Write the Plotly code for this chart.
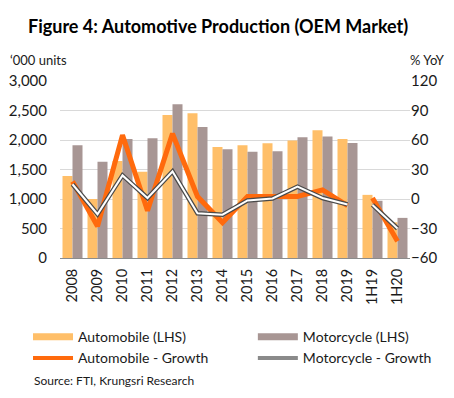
import plotly.graph_objects as go

categories = ["2008", "2009", "2010", "2011", "2012", "2013", "2014",
              "2015", "2016", "2017", "2018", "2019", "1H19", "1H20"]
auto_units = [1390, 1000, 1645, 1460, 2425, 2455, 1880, 1913, 1945, 1990, 2165, 2015, 1070, 605]
moto_units = [1910, 1630, 2015, 2030, 2605, 2220, 1845, 1800, 1810, 2045, 2060, 1950, 970, 680]
auto_growth = [17.8, -27.7, 65.0, -12.0, 66.5, 2.5, -24.0, 2.5, 2.5, 2.5, 9.2, -6.8, 1.0, -43.0]
moto_growth = [15.0, -15.5, 24.0, 1.0, 28.0, -14.5, -16.0, -1.5, 0.5, 12.5, 1.0, -5.5, -6.0, -30.0]

FONT = "Lato"
TXT = "#1a1a1a"
AUTO_BAR = "#FFBF69"
MOTO_BAR = "#A89694"
AUTO_LINE = "#FF6A0D"
MOTO_DARK = "#4A4A4A"

# growth lines are split into the annual run (2008-2019) and the half-year pair
ag_y = auto_growth[:12] + [None, None]
ag_y2 = [None] * 12 + auto_growth[12:]
mg_y = moto_growth[:12] + [None, None]
mg_y2 = [None] * 12 + moto_growth[12:]

fig = go.Figure()
fig.add_trace(go.Bar(x=categories, y=auto_units, name="Automobile (LHS)",
                     marker=dict(color=AUTO_BAR, line=dict(width=0)), showlegend=False))
fig.add_trace(go.Bar(x=categories, y=moto_units, name="Motorcycle (LHS)",
                     marker=dict(color=MOTO_BAR, line=dict(width=0)), showlegend=False))
for yv in (ag_y, ag_y2):
    fig.add_trace(go.Scatter(x=categories, y=yv, yaxis="y2", mode="lines",
                             line=dict(color=AUTO_LINE, width=5), showlegend=False))
for yv in (mg_y, mg_y2):
    fig.add_trace(go.Scatter(x=categories, y=yv, yaxis="y2", mode="lines",
                             line=dict(color=MOTO_DARK, width=4.5), showlegend=False))
for yv in (mg_y, mg_y2):
    fig.add_trace(go.Scatter(x=categories, y=yv, yaxis="y2", mode="lines",
                             line=dict(color="white", width=2), showlegend=False))

# legend entries (legend-only proxies so the swatches look like the original)
fig.add_trace(go.Scatter(x=[None], y=[None], mode="lines", name="Automobile (LHS)",
                         line=dict(color=AUTO_BAR, width=7), legend="legend"))
fig.add_trace(go.Scatter(x=[None], y=[None], mode="lines", name="Automobile - Growth",
                         line=dict(color=AUTO_LINE, width=4), legend="legend"))
fig.add_trace(go.Scatter(x=[None], y=[None], mode="lines", name="Motorcycle (LHS)",
                         line=dict(color=MOTO_BAR, width=7), legend="legend2"))
fig.add_trace(go.Scatter(x=[None], y=[None], mode="lines", name="Motorcycle - Growth",
                         line=dict(color="#8a8a8a", width=4), legend="legend2"))

leg_common = dict(orientation="v", yanchor="top", xanchor="left",
                  font=dict(family=FONT, size=14, color=TXT),
                  tracegroupgap=0, itemwidth=40, bgcolor="rgba(0,0,0,0)",
                  traceorder="normal")

fig.update_layout(
    width=446, height=390,
    margin=dict(l=52, r=44, t=72.5, b=139.5, autoexpand=False),
    paper_bgcolor="white", plot_bgcolor="white",
    font=dict(family=FONT, size=14, color=TXT),
    barmode="group", bargap=0.2, bargroupgap=0,
    showlegend=True,
    legend=dict(x=-0.0914, y=-0.357, **leg_common),
    legend2=dict(x=0.551, y=-0.357, **leg_common),
    xaxis=dict(type="category", tickangle=-90, showgrid=False,
               showline=True, linecolor="#8c8c8c", linewidth=1,
               ticks="", tickfont=dict(size=14.5), ticklabelstandoff=4),
    yaxis=dict(range=[0, 3000], dtick=500, tickformat=",",
               showgrid=True, gridcolor="#d9d9d9", gridwidth=1,
               zeroline=False, showline=False, ticks="",
               tickfont=dict(size=15), ticklabelstandoff=12),
    yaxis2=dict(range=[-60, 120], dtick=30, overlaying="y", side="right",
                showgrid=False, zeroline=False, showline=False, ticks="",
                tickfont=dict(size=15)),
    annotations=[
        dict(text="<b>Figure 4: Automotive Production (OEM Market)</b>",
             xref="paper", yref="paper", x=0.451, y=1.0, xanchor="center",
             yanchor="middle", yshift=55.5, showarrow=False,
             font=dict(family=FONT, size=18, color="#000000")),
        dict(text="‘000 units", xref="paper", yref="paper", x=-0.1486, y=1.0,
             xanchor="left", yanchor="middle", yshift=21.5, showarrow=False,
             font=dict(family=FONT, size=13, color=TXT)),
        dict(text="% YoY", xref="paper", yref="paper", x=1.106, y=1.0,
             xanchor="right", yanchor="middle", yshift=21.5, showarrow=False,
             font=dict(family=FONT, size=13, color=TXT)),
        dict(text="Source: FTI, Krungsri Research", xref="paper", yref="paper",
             x=-0.08, y=-0.694, xanchor="left", yanchor="middle", showarrow=False,
             font=dict(family=FONT, size=12, color=TXT)),
    ],
)

fig.write_html("out.html")
